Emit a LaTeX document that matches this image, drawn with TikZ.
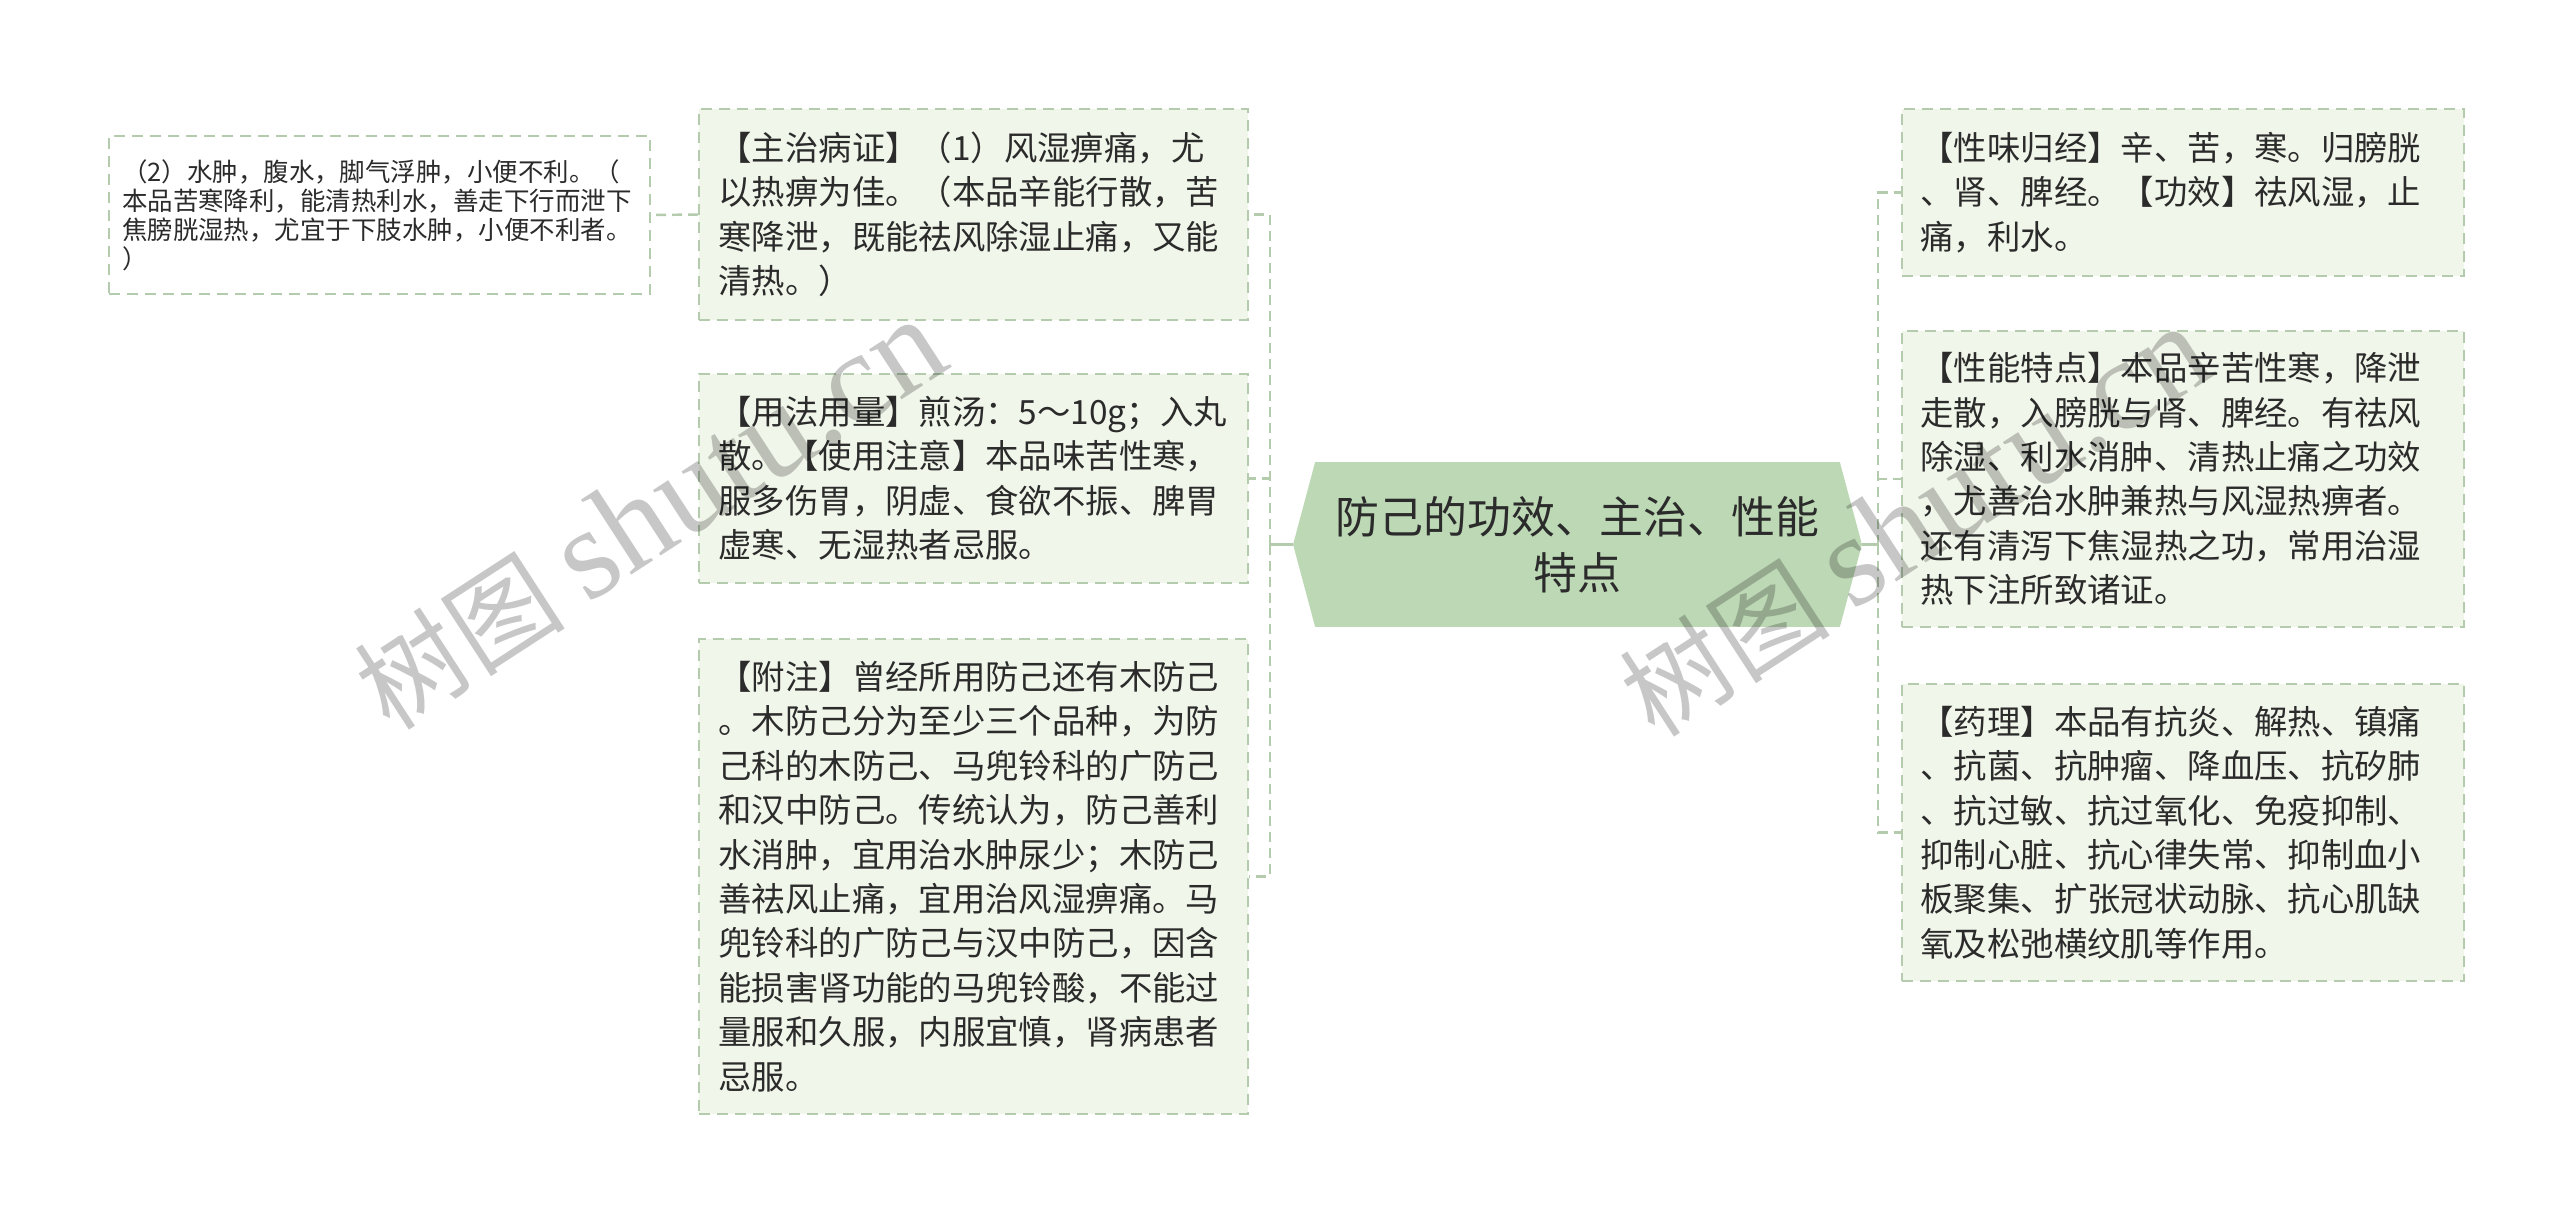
\documentclass[tikz,border=0pt]{standalone}
\usepackage{fontspec}
\setmainfont{Noto Sans CJK SC}
\newfontfamily\wmlatin{Liberation Serif}
\usetikzlibrary{shapes.symbols, positioning}

\definecolor{leaffill}{HTML}{F0F6EA}
\definecolor{leafline}{HTML}{B4CBAE}
\definecolor{hubfill}{HTML}{BDD8B5}
\definecolor{ink}{HTML}{2B2B2B}

\begin{document}
\begin{tikzpicture}[x=0.02cm, y=-0.02cm,
    leaf/.style={draw=leafline, fill=leaffill, line width=1.1pt,
      dash pattern=on 0.22cm off 0.14cm, text=ink, align=left,
      inner ysep=0pt, font=\fontsize{19}{25.3}\selectfont},
    midleaf/.style={leaf, text width=10.2cm, inner xsep=0.39cm},
    sideleaf/.style={leaf, text width=10.5cm, inner xsep=0.37cm},
    hub/.style={shape=signal, signal to=west and east, signal pointer angle=150,
      fill=hubfill, text=ink, align=center, minimum width=11.38cm,
      minimum height=3.3cm, inner sep=0pt, font=\fontsize{25}{31.6}\selectfont},
    link/.style={draw=leafline, line width=1.4pt, dash pattern=on 0.2cm off 0.12cm},
    stem/.style={draw=leafline, line width=1.4pt},
    wmark/.style={text=black, text opacity=0.22, rotate=33,
      font=\fontsize{60}{60}\selectfont}]
  \useasboundingbox (0,0) rectangle (2560,1225);

  \node[hub] (hub) at (1577.5,544.5) {防己的功效、主治、性能\\特点};

  % left side
  \node[midleaf, minimum height=4.22cm] (zhuzhi) at (973.5,214.5) {%
    【主治病证】（1）风湿痹痛，尤\\
    以热痹为佳。（本品辛能行散，苦\\
    寒降泄，既能祛风除湿止痛，又能\\
    清热。）};
  \node[midleaf, minimum height=4.18cm] (yongfa) at (973.5,478.5) {%
    【用法用量】煎汤：5～10g；入丸\\
    散。【使用注意】本品味苦性寒，\\
    服多伤胃，阴虚、食欲不振、脾胃\\
    虚寒、无湿热者忌服。};
  \node[midleaf, minimum height=9.5cm] (fuzhu) at (973.5,876.5) {%
    【附注】曾经所用防己还有木防己\\
    。木防己分为至少三个品种，为防\\
    己科的木防己、马兜铃科的广防己\\
    和汉中防己。传统认为，防己善利\\
    水消肿，宜用治水肿尿少；木防己\\
    善祛风止痛，宜用治风湿痹痛。马\\
    兜铃科的广防己与汉中防己，因含\\
    能损害肾功能的马兜铃酸，不能过\\
    量服和久服，内服宜慎，肾病患者\\
    忌服。};
  \node[leaf, text width=10.3cm, inner xsep=0.26cm, minimum height=3.16cm,
    font=\fontsize{14.5}{16.5}\selectfont, fill=white] (note) at (379.5,215) {%
    （2）水肿，腹水，脚气浮肿，小便不利。（\\
    本品苦寒降利，能清热利水，善走下行而泄下\\
    焦膀胱湿热，尤宜于下肢水肿，小便不利者。\\
    ）};

  % right side
  \node[sideleaf, minimum height=3.34cm] (xingwei) at (2183,192.5) {%
    【性味归经】辛、苦，寒。归膀胱\\
    、肾、脾经。【功效】祛风湿，止\\
    痛，利水。};
  \node[sideleaf, minimum height=5.92cm] (xingneng) at (2183,479) {%
    【性能特点】本品辛苦性寒，降泄\\
    走散，入膀胱与肾、脾经。有祛风\\
    除湿、利水消肿、清热止痛之功效\\
    ，尤善治水肿兼热与风湿热痹者。\\
    还有清泻下焦湿热之功，常用治湿\\
    热下注所致诸证。};
  \node[sideleaf, minimum height=5.94cm] (yaoli) at (2183,832.5) {%
    【药理】本品有抗炎、解热、镇痛\\
    、抗菌、抗肿瘤、降血压、抗矽肺\\
    、抗过敏、抗过氧化、免疫抑制、\\
    抑制心脏、抗心律失常、抑制血小\\
    板聚集、扩张冠状动脉、抗心肌缺\\
    氧及松弛横纹肌等作用。};

  % connectors
  \coordinate (lfork) at (1270,544.5);
  \coordinate (rfork) at (1878,544.5);
  \draw[stem] (hub.west) -- (lfork);
  \draw[stem] (hub.east) -- (rfork);
  \draw[link] (lfork) |- (zhuzhi.east);
  \draw[link] (lfork) |- (yongfa.east);
  \draw[link] (lfork) |- (fuzhu.east);
  \draw[link] (zhuzhi.west) -- (note.east);
  \draw[link] (rfork) |- (xingwei.west);
  \draw[link] (rfork) |- (xingneng.west);
  \draw[link] (rfork) |- (yaoli.west);

  % watermark
  \node[wmark] (wmleft) at (650,515) {树图 {\wmlatin\fontsize{74}{74}\selectfont shutu.cn}};
  \node[wmark] (wmright) at (1915,522) {树图 {\wmlatin\fontsize{74}{74}\selectfont shutu.cn}};
\end{tikzpicture}
\end{document}
